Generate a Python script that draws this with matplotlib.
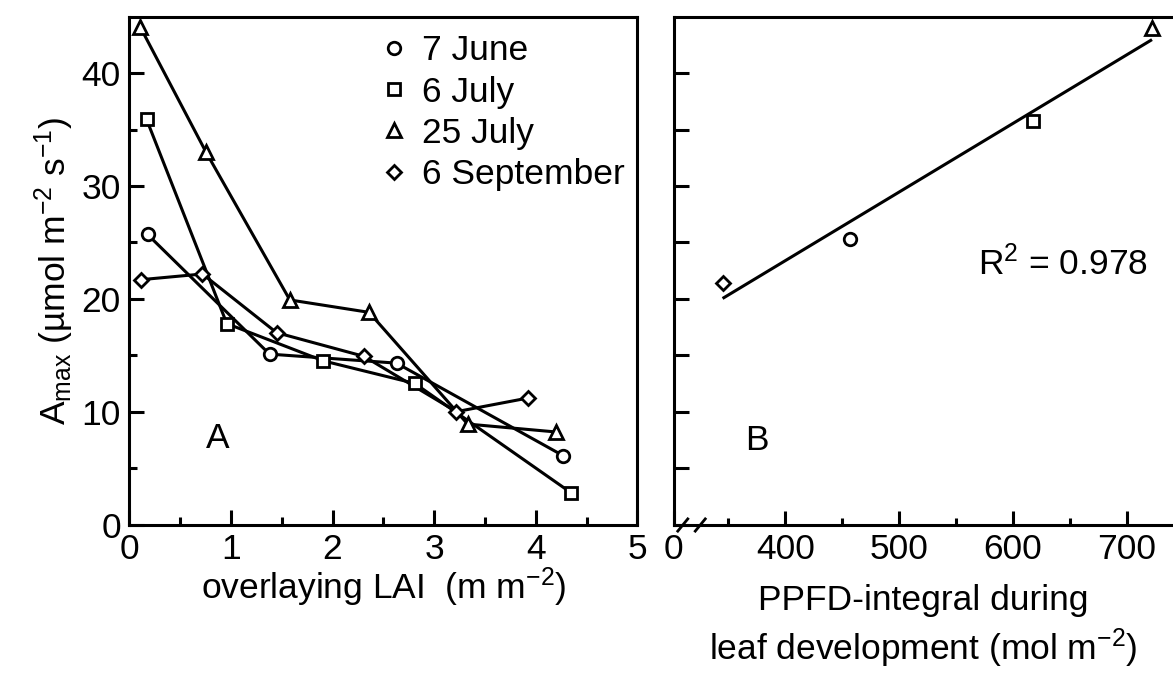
import numpy as np
import matplotlib
matplotlib.use("Agg")
import matplotlib.pyplot as plt
from matplotlib.lines import Line2D

plt.rcParams['font.family'] = ['Liberation Sans', 'DejaVu Sans']
plt.rcParams['mathtext.fontset'] = 'custom'
plt.rcParams['mathtext.rm'] = 'Liberation Sans'
plt.rcParams['mathtext.it'] = 'Liberation Sans:italic'
plt.rcParams['mathtext.bf'] = 'Liberation Sans:bold'

# Panel A: Amax vs overlaying LAI, one series per sampling date
lai_june = [0.18, 1.38, 2.63, 4.27]
amax_june = [25.7, 15.1, 14.3, 6.1]

lai_july = [0.17, 0.96, 1.91, 2.81, 4.35]
amax_july = [35.9, 17.8, 14.5, 12.5, 2.8]

lai_late_july = [0.11, 0.755, 1.58, 2.36, 3.33, 4.20]
amax_late_july = [44.05, 33.0, 19.9, 18.8, 8.9, 8.2]

lai_sept = [0.12, 0.72, 1.45, 2.31, 3.22, 3.92]
amax_sept = [21.7, 22.2, 17.0, 14.9, 10.0, 11.2]

dates = ['7 June', '6 July', '25 July', '6 September']
markers = ['o', 's', '^', 'D']
marker_sizes = [9, 8.5, 10.5, 7.5]

# Panel B: top-of-canopy Amax vs PPFD integral
ppfd = [457, 618, 722, 345]
amax_top = [25.3, 35.8, 44.0, 21.4]
fit_x = [346, 721]
fit_y = [20.1, 42.9]

FS = 25.5
LW = 2.2

fig = plt.figure(figsize=(11.73, 6.73), dpi=100)
W, H = 1173, 673
ax1 = fig.add_axes([129.3 / W, 1 - 524.5 / H, 508 / W, 507.8 / H])
ax2 = fig.add_axes([673.8 / W, 1 - 524.5 / H, 499.2 / W, 507.8 / H])

series = [(lai_june, amax_june), (lai_july, amax_july),
          (lai_late_july, amax_late_july), (lai_sept, amax_sept)]

for (x, y) in series:
    ax1.plot(x, y, '-', color='black', lw=LW, zorder=2, clip_on=False)
for (x, y), m, ms in zip(series, markers, marker_sizes):
    ax1.plot(x, y, linestyle='none', marker=m, ms=ms, mfc='white',
             mec='black', mew=2.0, zorder=3, clip_on=False)

ax1.set_xlim(0, 5)
ax1.set_ylim(0, 45)
ax1.set_xticks([0, 1, 2, 3, 4, 5])
ax1.set_xticks(np.arange(0.5, 5, 1.0), minor=True)
ax1.set_yticks([0, 10, 20, 30, 40])
ax1.set_yticks([5, 15, 25, 35], minor=True)
ax1.tick_params(which='both', direction='in', width=2.2, labelsize=FS,
                top=False, right=False)
ax1.tick_params(which='major', length=10.5, pad=6)
ax1.tick_params(which='minor', length=5.5)
for s in ax1.spines.values():
    s.set_linewidth(2.2)

ax1.set_xlabel('overlaying LAI  (m m$^{-2}$)', fontsize=FS, labelpad=0)
ax1.set_ylabel('A$_{\\rm max}$ (µmol m$^{-2}$ s$^{-1}$)', fontsize=FS,
               labelpad=4)
ax1.text(0.87, 7.6, 'A', fontsize=FS, ha='center', va='center')

handles = [Line2D([], [], linestyle='none', marker=m, ms=ms,
                  mfc='white', mec='black', mew=2.0)
           for m, ms in zip(markers, marker_sizes)]
ax1.legend(handles, dates, loc='upper left', bbox_to_anchor=(0.5, 0.965),
           frameon=False, fontsize=FS, handlelength=0.6,
           handletextpad=0.5, labelspacing=0.23, borderpad=0,
           borderaxespad=0)

# Panel B
ax2.plot(fit_x, fit_y, '-', color='black', lw=LW, zorder=2)
for xv, yv, m, ms in zip(ppfd, amax_top, markers, marker_sizes):
    ax2.plot([xv], [yv], linestyle='none', marker=m, ms=ms,
             mfc='white', mec='black', mew=2.0, zorder=3, clip_on=False)

ax2.set_xlim(302, 740.6)
ax2.set_ylim(0, 45)
ax2.set_xticks([302, 400, 500, 600, 700])
ax2.set_xticklabels(['0', '400', '500', '600', '700'])
ax2.set_xticks([350, 450, 550, 650], minor=True)
ax2.set_yticks(np.arange(0, 45, 5))
ax2.set_yticklabels([])
ax2.tick_params(which='both', direction='in', width=2.2, labelsize=FS,
                top=False, right=False)
ax2.tick_params(axis='x', which='major', length=10, pad=6)
ax2.tick_params(axis='x', which='minor', length=5)
ax2.tick_params(axis='y', which='major', length=10.5)
for s in ax2.spines.values():
    s.set_linewidth(2.2)
ax2.spines['right'].set_visible(False)

# axis break marks
for xb in [0.018, 0.053]:
    ax2.plot([xb - 0.01, xb + 0.01], [-0.013, 0.011], color='black',
             lw=2.0, transform=ax2.transAxes, clip_on=False)

ax2.set_xlabel('PPFD-integral during\nleaf development (mol m$^{-2}$)',
               fontsize=FS, labelpad=13, linespacing=1.3)
ax2.text(375, 7.45, 'B', fontsize=FS, ha='center', va='center')
ax2.text(569, 23.1, 'R$^2$ = 0.978', fontsize=FS, ha='left', va='center')

fig.savefig('out.png', dpi=100)
